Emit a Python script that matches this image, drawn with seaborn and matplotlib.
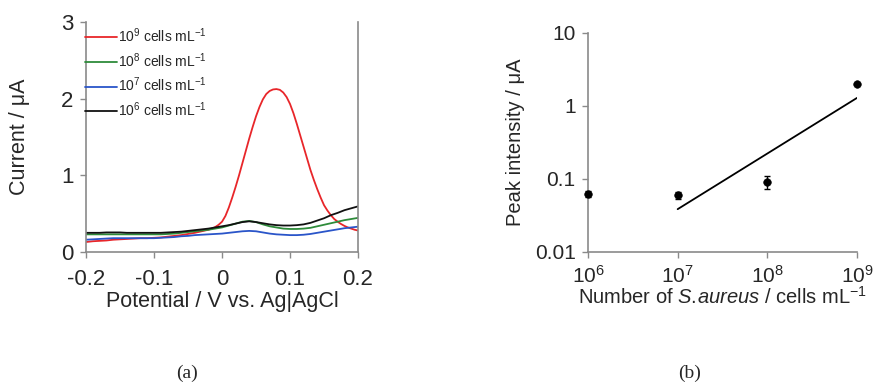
import numpy as np
import pandas as pd
import matplotlib
matplotlib.use("Agg")
import matplotlib.pyplot as plt
import seaborn as sns
from matplotlib.ticker import NullLocator, FixedLocator, FixedFormatter

sns.set_theme(style="white")
plt.rcParams['font.family'] = ['Liberation Sans', 'DejaVu Sans']
plt.rcParams['mathtext.fontset'] = 'custom'
plt.rcParams['mathtext.rm'] = 'Liberation Sans'
plt.rcParams['mathtext.it'] = 'Liberation Sans:italic'
plt.rcParams['mathtext.bf'] = 'Liberation Sans:bold'

# ---------------- data: panel (a) ----------------
potential = [-0.20, -0.19, -0.18, -0.17, -0.16, -0.15, -0.14, -0.13, -0.12, -0.11,
             -0.10, -0.09, -0.08, -0.07, -0.06, -0.05, -0.04, -0.03, -0.02, -0.01,
             0.00, 0.01, 0.02, 0.03, 0.04, 0.05, 0.06, 0.07, 0.08, 0.09,
             0.10, 0.11, 0.12, 0.13, 0.14, 0.15, 0.16, 0.17, 0.18, 0.19, 0.20]
# the 10^9 trace is read on a finer grid (sharp peak)
potential_1e9 = [-0.20, -0.19, -0.18, -0.17, -0.16, -0.15, -0.14, -0.13, -0.12, -0.11,
                 -0.10, -0.09, -0.08, -0.07, -0.06, -0.05, -0.04, -0.03, -0.025, -0.02,
                 -0.015, -0.01, -0.005, 0.000, 0.005, 0.010, 0.015, 0.020, 0.025, 0.030,
                 0.035, 0.040, 0.045, 0.050, 0.055, 0.060, 0.065, 0.070, 0.075, 0.080,
                 0.085, 0.090, 0.095, 0.100, 0.105, 0.110, 0.115, 0.120, 0.125, 0.130,
                 0.135, 0.140, 0.145, 0.150, 0.155, 0.160, 0.165, 0.170, 0.175, 0.180,
                 0.185, 0.190, 0.195, 0.200]
current_1e9 = [0.13, 0.14, 0.145, 0.15, 0.16, 0.165, 0.17, 0.175, 0.18, 0.18,
               0.185, 0.19, 0.20, 0.21, 0.22, 0.235, 0.25, 0.27, 0.28, 0.29,
               0.305, 0.325, 0.355, 0.395, 0.47, 0.58, 0.71, 0.85, 1.00, 1.16,
               1.32, 1.48, 1.63, 1.77, 1.89, 1.99, 2.06, 2.10, 2.12, 2.125,
               2.115, 2.08, 2.02, 1.93, 1.81, 1.67, 1.52, 1.37, 1.22, 1.07,
               0.94, 0.82, 0.71, 0.61, 0.54, 0.48, 0.43, 0.395, 0.365, 0.34,
               0.32, 0.305, 0.29, 0.28]
current_1e8 = [0.23, 0.23, 0.23, 0.23, 0.23, 0.23, 0.23, 0.23, 0.23, 0.23,
               0.23, 0.23, 0.235, 0.24, 0.25, 0.26, 0.27, 0.28, 0.29, 0.305,
               0.32, 0.345, 0.37, 0.395, 0.405, 0.39, 0.36, 0.335, 0.32, 0.305,
               0.30, 0.30, 0.305, 0.315, 0.335, 0.355, 0.375, 0.395, 0.415, 0.43, 0.445]
current_1e7 = [0.16, 0.165, 0.17, 0.175, 0.18, 0.18, 0.18, 0.18, 0.18, 0.18,
               0.18, 0.185, 0.19, 0.195, 0.205, 0.21, 0.22, 0.225, 0.23, 0.235,
               0.24, 0.25, 0.26, 0.27, 0.275, 0.27, 0.255, 0.24, 0.23, 0.225,
               0.22, 0.22, 0.225, 0.235, 0.25, 0.265, 0.28, 0.295, 0.31, 0.32, 0.33]
current_1e6 = [0.25, 0.25, 0.25, 0.255, 0.255, 0.255, 0.25, 0.25, 0.25, 0.25,
               0.25, 0.25, 0.255, 0.26, 0.265, 0.275, 0.285, 0.295, 0.305, 0.32,
               0.335, 0.35, 0.37, 0.39, 0.40, 0.39, 0.375, 0.36, 0.35, 0.345,
               0.345, 0.35, 0.36, 0.38, 0.41, 0.44, 0.48, 0.51, 0.545, 0.57, 0.595]
series_labels = ["10$^{9}$ cells mL$^{-1}$", "10$^{8}$ cells mL$^{-1}$",
                 "10$^{7}$ cells mL$^{-1}$", "10$^{6}$ cells mL$^{-1}$"]
series_colors = ["#e8262a", "#2e8b3a", "#2a55c9", "#111111"]

# ---------------- data: panel (b) ----------------
conc = [1e6, 1e7, 1e8, 1e9]
peak = [0.063, 0.060, 0.092, 2.02]
peak_err = [0.006, 0.007, 0.018, 0.05]
fit_x = [1e7, 1e9]
fit_y = [0.0386, 1.29]

# ---------------- figure ----------------
fig = plt.figure(figsize=(8.75, 3.85), dpi=100)
axA = fig.add_axes([0.0983, 0.3455, 0.3109, 0.5974])
axB = fig.add_axes([0.672, 0.3455, 0.3074, 0.5688])

spine_col = "#8a8a8a"

# panel (a)
df = pd.concat([
    pd.DataFrame({"Potential": xs, "Current": vals, "Series": lab})
    for xs, vals, lab in zip([potential_1e9, potential, potential, potential],
                             [current_1e9, current_1e8, current_1e7, current_1e6],
                             series_labels)
])
sns.lineplot(data=df, x="Potential", y="Current", hue="Series", hue_order=series_labels,
             palette=dict(zip(series_labels, series_colors)), ax=axA, linewidth=1.3,
             sort=False)
axA.set_xlim(-0.2, 0.2)
axA.set_ylim(0, 3)
axA.set_xticks([-0.2, -0.1, 0, 0.1, 0.2])
axA.set_xticklabels(["-0.2", "-0.1", "0", "0.1", "0.2"])
axA.set_yticks([0, 1, 2, 3])
axA.set_yticklabels(["0", "1", "2", "3"])
axA.tick_params(axis="both", labelsize=16, direction="out", length=4, width=1,
                color=spine_col, left=True, bottom=True)
axA.tick_params(axis="x", pad=8)
axA.tick_params(axis="y", pad=5)
axA.set_xlabel("Potential / V vs. Ag|AgCl", fontsize=15.5, labelpad=1)
axA.set_ylabel("Current / μA", fontsize=15.5, labelpad=22)
for s in ["left", "bottom", "right"]:
    axA.spines[s].set_color(spine_col)
    axA.spines[s].set_linewidth(1.2)
axA.spines["top"].set_visible(False)
leg = axA.legend(loc="upper left", frameon=False, fontsize=10, handlelength=2.3,
                 handletextpad=0.1, labelspacing=0.45, borderaxespad=0.0,
                 borderpad=0.3, bbox_to_anchor=(-0.02, 1.0))
for line in leg.get_lines():
    line.set_linewidth(1.3)

# panel (b)
dfB = pd.DataFrame({"conc": conc, "peak": peak})
dfFit = pd.DataFrame({"conc": fit_x, "peak": fit_y})
sns.lineplot(data=dfFit, x="conc", y="peak", ax=axB, color="black", linewidth=1.3)
axB.errorbar(conc, peak, yerr=peak_err, fmt="none", ecolor="black", elinewidth=1,
             capsize=2, clip_on=False)
sns.scatterplot(data=dfB, x="conc", y="peak", ax=axB, color="black", s=30,
                edgecolor="black", zorder=5, clip_on=False)
axB.set_xscale("log")
axB.set_yscale("log")
axB.set_xlim(1e6, 1e9)
axB.set_ylim(0.01, 10)
axB.xaxis.set_major_locator(FixedLocator([1e6, 1e7, 1e8, 1e9]))
axB.xaxis.set_major_formatter(FixedFormatter(["10$^{6}$", "10$^{7}$", "10$^{8}$", "10$^{9}$"]))
axB.xaxis.set_minor_locator(NullLocator())
axB.yaxis.set_major_locator(FixedLocator([0.01, 0.1, 1, 10]))
axB.yaxis.set_major_formatter(FixedFormatter(["0.01", "0.1", "1", "10"]))
axB.yaxis.set_minor_locator(NullLocator())
axB.tick_params(axis="both", labelsize=15, direction="out", length=4, width=1,
                color=spine_col, left=True, bottom=True)
axB.tick_params(axis="x", pad=5)
axB.tick_params(axis="y", pad=5)
axB.set_xlabel("Number of $\\it{S.\\!aureus}$ / cells mL$^{-1}$", fontsize=14.5, labelpad=0)
axB.set_ylabel("Peak intensity / μA", fontsize=14.5, labelpad=7)
for s in ["left", "bottom"]:
    axB.spines[s].set_color(spine_col)
    axB.spines[s].set_linewidth(1.2)
axB.spines["top"].set_visible(False)
axB.spines["right"].set_visible(False)

# captions
fig.text(187 / 875, 1 - 373 / 385, "(a)", ha="center", va="center", fontsize=14,
         family="Liberation Serif")
fig.text(690 / 875, 1 - 373 / 385, "(b)", ha="center", va="center", fontsize=14,
         family="Liberation Serif")

fig.savefig("out.png", dpi=100)
